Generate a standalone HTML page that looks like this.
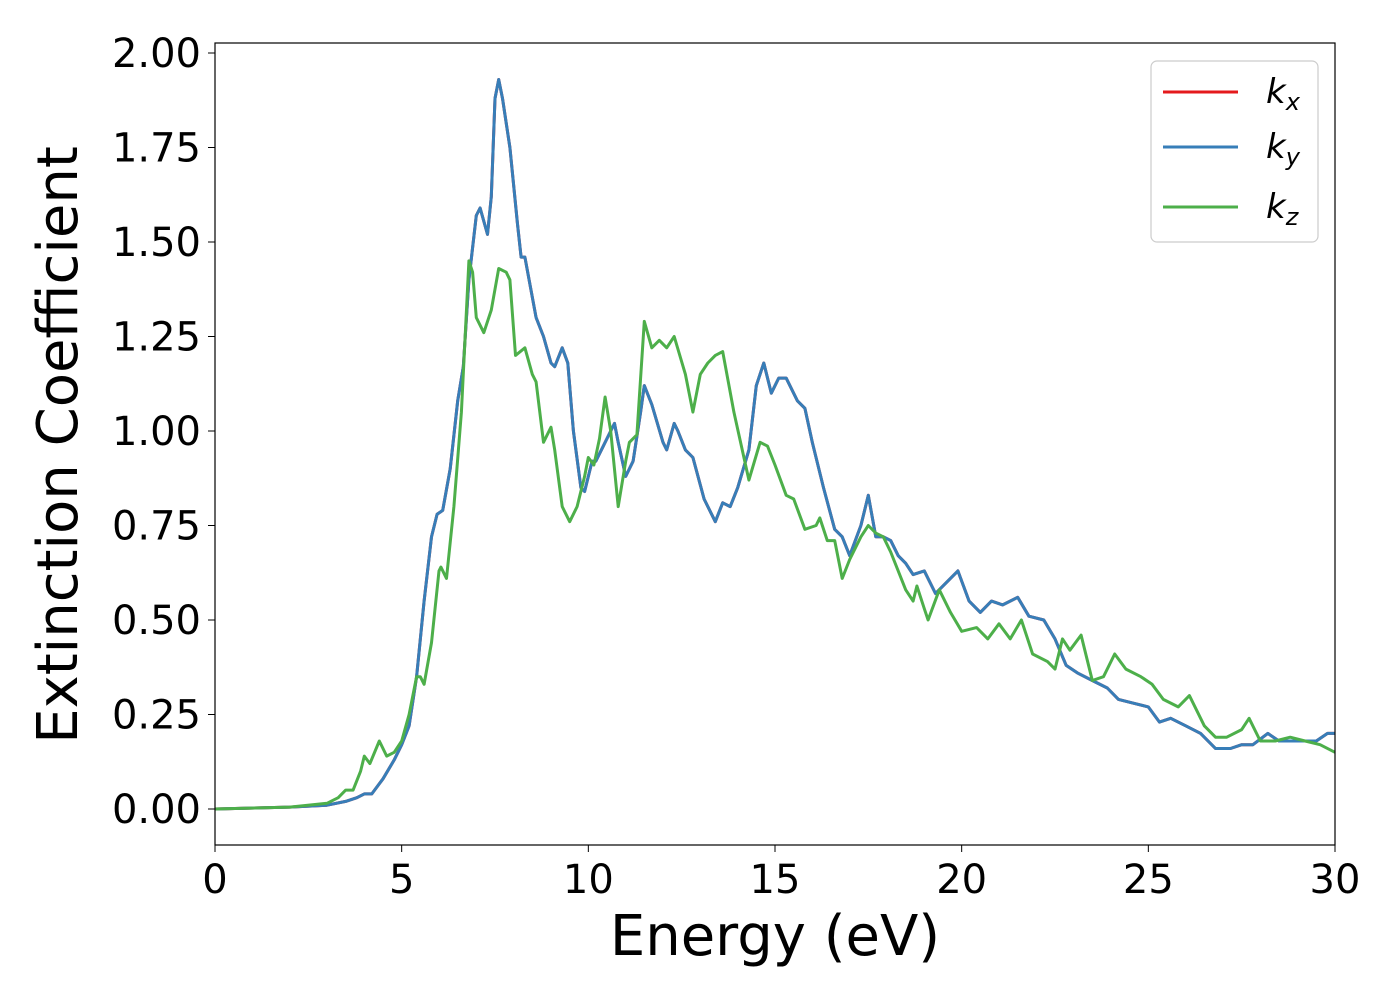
<!DOCTYPE html>
<html><head><meta charset="utf-8"><style>
body{margin:0;background:#fff;}
svg text{font-family:"DejaVu Sans","Liberation Sans",sans-serif;fill:#000;}
</style></head><body>
<svg id="chart" width="1400" height="1000" xmlns="http://www.w3.org/2000/svg">
<rect width="1400" height="1000" fill="#fff"/>
<g id="ticks"></g>
<g id="series"></g>
<rect x="215" y="43" width="1120" height="802" fill="none" stroke="#000" stroke-width="1.2"/>
<text x="775" y="955" font-size="56" text-anchor="middle">Energy (eV)</text>
<text transform="translate(77,445) rotate(-90)" font-size="56" text-anchor="middle">Extinction Coefficient</text>
<g>
<rect x="1151" y="61" width="167" height="181" rx="6" fill="#fff" stroke="#ccc" stroke-width="1.2"/>
<line x1="1163" y1="92" x2="1238" y2="92" stroke="#e41a1c" stroke-width="3"/>
<line x1="1163" y1="147" x2="1238" y2="147" stroke="#377eb8" stroke-width="3"/>
<line x1="1163" y1="207" x2="1238" y2="207" stroke="#4daf4a" stroke-width="3"/>
<text x="1266" y="103" font-size="34" font-style="italic">k<tspan font-size="24" dy="7">x</tspan></text>
<text x="1266" y="158" font-size="34" font-style="italic">k<tspan font-size="24" dy="7">y</tspan></text>
<text x="1266" y="218" font-size="34" font-style="italic">k<tspan font-size="24" dy="7">z</tspan></text>
</g>
</svg>
<script>
const xTicks=[0,5,10,15,20,25,30];
const yTicks=[0,0.25,0.5,0.75,1.0,1.25,1.5,1.75,2.0];
const energyY=[0,2,3,3.5,3.8,4,4.2,4.5,4.8,5,5.2,5.4,5.6,5.8,5.95,6.1,6.3,6.5,6.65,6.8,7.0,7.1,7.3,7.4,7.5,7.6,7.7,7.9,8.1,8.2,8.3,8.45,8.6,8.8,9.0,9.1,9.3,9.45,9.6,9.8,9.9,10.1,10.2,10.4,10.6,10.7,10.8,11.0,11.2,11.4,11.5,11.7,12.0,12.1,12.3,12.4,12.6,12.8,13.1,13.4,13.6,13.8,14.0,14.3,14.5,14.7,14.9,15.1,15.3,15.6,15.8,16.0,16.3,16.6,16.8,17.0,17.3,17.5,17.7,17.9,18.1,18.3,18.5,18.7,19.0,19.3,19.6,19.9,20.2,20.5,20.8,21.1,21.5,21.8,22.2,22.5,22.8,23.1,23.5,23.9,24.2,24.6,25.0,25.3,25.6,26.0,26.4,26.8,27.2,27.5,27.8,28.2,28.5,29.0,29.5,29.8,30];
const kyValues=[0,0.005,0.01,0.02,0.03,0.04,0.04,0.08,0.13,0.17,0.22,0.35,0.55,0.72,0.78,0.79,0.9,1.08,1.17,1.4,1.57,1.59,1.52,1.62,1.88,1.93,1.88,1.75,1.55,1.46,1.46,1.38,1.3,1.25,1.18,1.17,1.22,1.18,1.0,0.85,0.84,0.92,0.92,0.96,1.0,1.02,0.97,0.88,0.92,1.05,1.12,1.07,0.97,0.95,1.02,1.0,0.95,0.93,0.82,0.76,0.81,0.80,0.85,0.95,1.12,1.18,1.1,1.14,1.14,1.08,1.06,0.97,0.85,0.74,0.72,0.67,0.75,0.83,0.72,0.72,0.71,0.67,0.65,0.62,0.63,0.57,0.60,0.63,0.55,0.52,0.55,0.54,0.56,0.51,0.50,0.45,0.38,0.36,0.34,0.32,0.29,0.28,0.27,0.23,0.24,0.22,0.2,0.16,0.16,0.17,0.17,0.2,0.18,0.18,0.18,0.2,0.2];
const kxValues=kyValues.slice();
const energyZ=[0,2,3,3.3,3.5,3.7,3.9,4.0,4.15,4.4,4.6,4.8,5.0,5.2,5.4,5.5,5.6,5.8,6.0,6.05,6.2,6.4,6.6,6.8,6.9,7.0,7.2,7.4,7.6,7.8,7.9,8.05,8.3,8.5,8.6,8.8,9.0,9.1,9.3,9.5,9.7,9.9,10.0,10.15,10.3,10.45,10.6,10.8,11.0,11.1,11.3,11.5,11.7,11.9,12.1,12.3,12.6,12.8,13.0,13.2,13.4,13.6,13.9,14.3,14.6,14.8,15.0,15.3,15.5,15.8,16.1,16.2,16.4,16.6,16.8,17.0,17.3,17.5,17.7,17.9,18.1,18.5,18.7,18.8,19.0,19.1,19.4,19.7,20.0,20.4,20.7,21.0,21.3,21.6,21.9,22.3,22.5,22.7,22.9,23.2,23.5,23.8,24.1,24.4,24.8,25.1,25.4,25.8,26.1,26.5,26.8,27.1,27.5,27.7,28.0,28.4,28.8,29.2,29.6,30];
const kzValues=[0,0.005,0.015,0.03,0.05,0.05,0.1,0.14,0.12,0.18,0.14,0.15,0.18,0.25,0.35,0.35,0.33,0.44,0.63,0.64,0.61,0.8,1.05,1.45,1.42,1.3,1.26,1.32,1.43,1.42,1.40,1.2,1.22,1.15,1.13,0.97,1.01,0.95,0.8,0.76,0.8,0.88,0.93,0.91,0.98,1.09,1.0,0.8,0.92,0.97,0.99,1.29,1.22,1.24,1.22,1.25,1.15,1.05,1.15,1.18,1.2,1.21,1.05,0.87,0.97,0.96,0.91,0.83,0.82,0.74,0.75,0.77,0.71,0.71,0.61,0.66,0.72,0.75,0.73,0.72,0.68,0.58,0.55,0.59,0.53,0.5,0.58,0.52,0.47,0.48,0.45,0.49,0.45,0.5,0.41,0.39,0.37,0.45,0.42,0.46,0.34,0.35,0.41,0.37,0.35,0.33,0.29,0.27,0.3,0.22,0.19,0.19,0.21,0.24,0.18,0.18,0.19,0.18,0.17,0.15];

const NS='http://www.w3.org/2000/svg';
const xScale=e=>215+e*(1120/30);
const yScale=v=>809-v*378;
const tg=document.getElementById('ticks');
xTicks.forEach(t=>{
  const l=document.createElementNS(NS,'line');
  
  
  l.setAttribute('x1',xScale(t));l.setAttribute('x2',xScale(t));
  l.setAttribute('y1',845);l.setAttribute('y2',852);l.setAttribute('stroke','#000');
  tg.appendChild(l);
  const s=document.createElementNS(NS,'text');
  
  
  s.setAttribute('x',xScale(t));s.setAttribute('y',893);
  s.setAttribute('font-size','40');s.setAttribute('text-anchor','middle');
  s.textContent=String(t);tg.appendChild(s);
});
yTicks.forEach(t=>{
  const l=document.createElementNS(NS,'line');
  
  
  l.setAttribute('x1',208);l.setAttribute('x2',215);
  l.setAttribute('y1',yScale(t));l.setAttribute('y2',yScale(t));l.setAttribute('stroke','#000');
  tg.appendChild(l);
  const s=document.createElementNS(NS,'text');
  
  
  s.setAttribute('x',201);s.setAttribute('y',yScale(t)+14);
  s.setAttribute('font-size','40');s.setAttribute('text-anchor','end');
  s.textContent=t.toFixed(2);tg.appendChild(s);
});
const sg=document.getElementById('series');
function draw(xs,ys,color,name){
  const p=document.createElementNS(NS,'polyline');
  
  
  p.setAttribute('points',xs.map((e,i)=>xScale(e).toFixed(1)+','+yScale(ys[i]).toFixed(1)).join(' '));
  p.setAttribute('fill','none');p.setAttribute('stroke',color);
  p.setAttribute('stroke-width','3');p.setAttribute('stroke-linejoin','round');
  sg.appendChild(p);
}
draw(energyY,kxValues,'#e41a1c','series-kx');
draw(energyY,kyValues,'#377eb8','series-ky');
draw(energyZ,kzValues,'#4daf4a','series-kz');
</script>
</body></html>
